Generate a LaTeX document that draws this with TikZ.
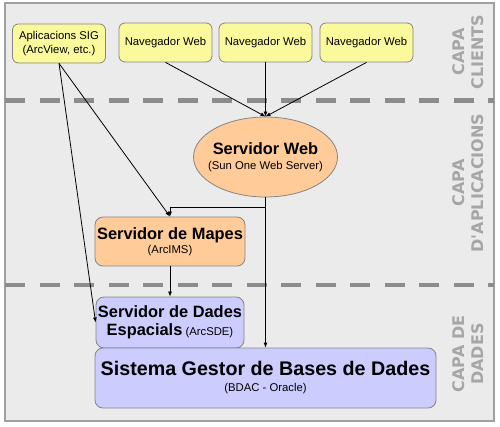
\documentclass[tikz,border=0pt]{standalone}
\usepackage{fontspec}
\setmainfont{Liberation Sans}
\newfontfamily\capafont{DejaVu Sans}
\usetikzlibrary{shapes.geometric,arrows.meta}
\definecolor{FonsGris}{HTML}{EBEBEB}
\definecolor{VoraMarc}{HTML}{A0A0A0}
\definecolor{VoraCaixa}{HTML}{858585}
\definecolor{Groc}{HTML}{FAFA9C}
\definecolor{Pressec}{HTML}{FFCC99}
\definecolor{Lila}{HTML}{CCCCFF}
\definecolor{TextCapa}{HTML}{A6A6A6}
\definecolor{Separador}{HTML}{8C8C8C}
\newcommand{\titolmig}[1]{{\bfseries\fontsize{16.4}{19}\selectfont #1}}
\newcommand{\titolgran}[1]{{\bfseries\fontsize{19.7}{23}\selectfont #1}}

\begin{document}
\begin{tikzpicture}[x=1pt,y=1pt,yscale=-1,xscale=1,
  caixa/.style={draw=VoraCaixa,line width=0.8pt,rounded corners=6pt,align=center,inner sep=1pt,font=\fontsize{11.3}{14}\selectfont},
  client/.style={caixa,fill=Groc,minimum width=93pt,minimum height=39pt},
  aplicacio/.style={caixa,fill=Pressec,rounded corners=8pt},
  dades/.style={caixa,fill=Lila,rounded corners=8pt},
  servidor/.style={ellipse,draw=VoraCaixa,line width=0.8pt,fill=Pressec,inner xsep=-14pt,minimum width=144pt,minimum height=80pt,align=center,font=\fontsize{11.3}{15}\selectfont},
  fletxa/.style={-{Latex[length=5pt,width=4pt]},line width=0.8pt},
  capa/.style={rotate=90,align=center,text=TextCapa,font=\capafont\bfseries\fontsize{16}{19}\selectfont},
  separador/.style={draw=Separador,line width=4.5pt,dash pattern=on 20pt off 14.5pt}]
\useasboundingbox (0,0) rectangle (500,427);

%Shape: Rectangle [marc]
\draw [fill=FonsGris,draw=VoraMarc,line width=1.5pt] (5,3) rectangle (494,421);
%Straight Lines [separadors de capa]
\draw [separador] (5,100.5) -- (494,100.5);
\draw [separador] (5,285) -- (494,285);

% Capa clients
\node [client] (sig) at (59,43.5) {Aplicacions SIG\\(ArcView, etc.)};
\node [client] (nav1) at (165.5,42.5) {Navegador Web};
\node [client] (nav2) at (265.5,42.5) {Navegador Web};
\node [client] (nav3) at (366.5,42.5) {Navegador Web};

% Capa d'aplicacions
\node [servidor] (web) at (265.5,157) {\titolmig{Servidor Web}\\(Sun One Web Server)};
\node [aplicacio,minimum width=150pt,minimum height=49pt] (mapes) at (170,241.5) {\titolmig{Servidor de Mapes}\\(ArcIMS)};

% Capa de dades
\node [dades,minimum width=148pt,minimum height=51pt] (sde) at (170,322.5) {\titolmig{Servidor de Dades}\\[4pt]\titolmig{Espacials} (ArcSDE)};
\node [dades,minimum width=341pt,minimum height=60pt] (sgbd) at (265.5,378) {\titolgran{Sistema Gestor de Bases de Dades}\\[2pt](BDAC - Oracle)};

% Text Node
\node [capa] (capaclients) at (468.5,52) {CAPA\\CLIENTS};
% Text Node
\node [capa] (capaaplic) at (468.5,183) {CAPA\\D'APLICACIONS};
% Text Node
\node [capa] (capadades) at (468.5,354) {CAPA DE\\DADES};

%Straight Lines [connexions]
\draw [fletxa] (nav1.south) -- (web.north);
\draw [fletxa] (nav2.south) -- (web.north);
\draw [fletxa] (nav3.south) -- (web.north);
\draw [fletxa] (sig.south) -- (mapes.north);
\draw [fletxa] (sig.south) -- (sde.west);
\draw [fletxa] (web.south) -- (sgbd.north);
\coordinate (branca) at (265.5,207);
\draw [fletxa] (branca) -| (mapes.north);
\draw [fletxa] (mapes.south) -- (sde.north);

\end{tikzpicture}
\end{document}
